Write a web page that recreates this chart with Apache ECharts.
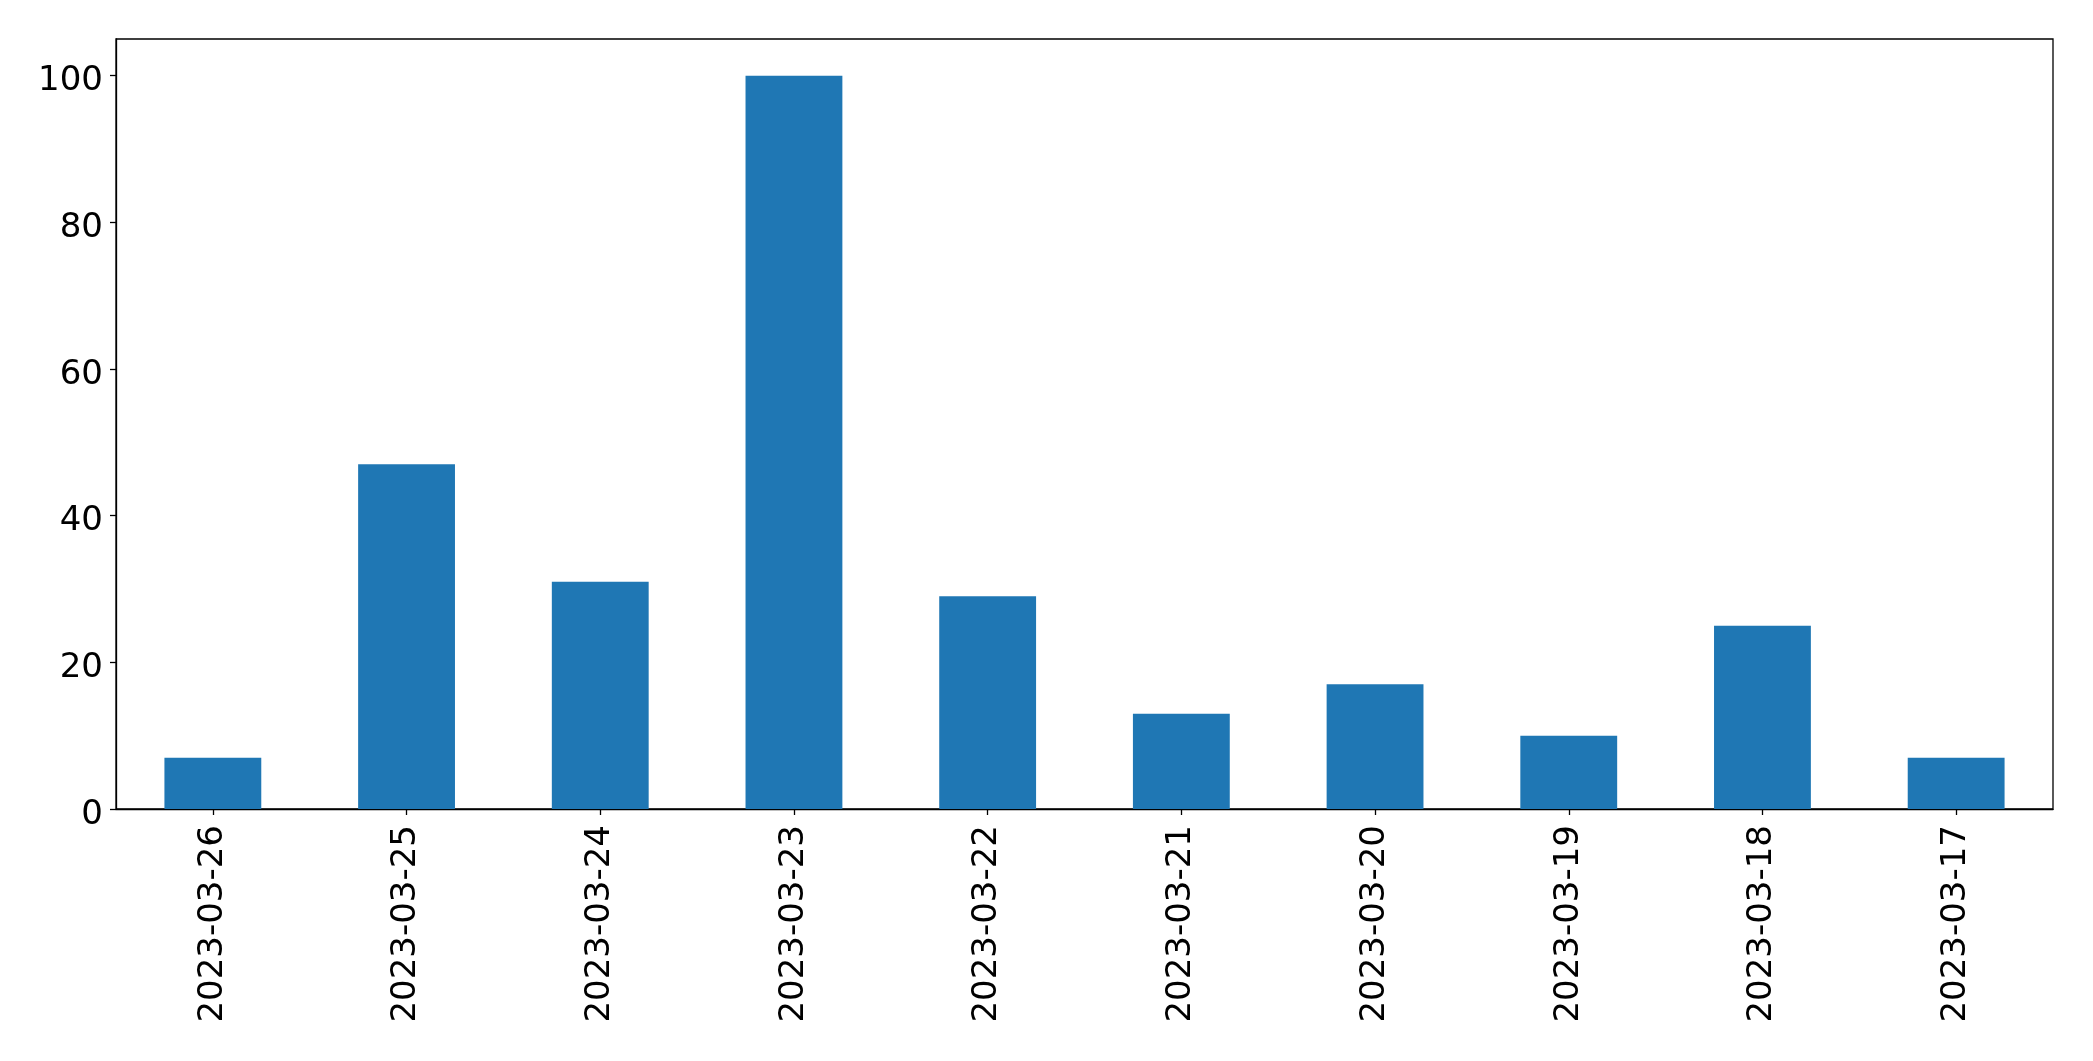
<!DOCTYPE html>
<html>
<head>
<meta charset="utf-8">
<script src="https://cdn.jsdelivr.net/npm/echarts@6/dist/echarts.min.js"></script>
<style>
    html, body { margin: 0; padding: 0; background: #fff; }
    #chart { width: 2093px; height: 1061px; }
</style>
</head>
<body>
<div id="chart"></div>
<script>
// dates (x axis, as in the picture: newest first)
var dates = ['2023-03-26', '2023-03-25', '2023-03-24', '2023-03-23', '2023-03-22',
    '2023-03-21', '2023-03-20', '2023-03-19', '2023-03-18', '2023-03-17'];
var counts = [7, 47, 31, 100, 29, 13, 17, 10, 25, 7];
var yTicks = [0, 20, 40, 60, 80, 100];

var font = 'DejaVu Sans';
var chartDom = document.getElementById('chart');
var myChart = echarts.init(chartDom, null, { renderer: 'canvas' });

var option = {
    animation: false,
    backgroundColor: '#fff',
    textStyle: { fontFamily: font },
    grid: {
        left: 116,
        top: 39,
        width: 1937,
        height: 770,
        show: true,
        borderColor: '#000',
        borderWidth: 1.3,
        backgroundColor: 'transparent',
        containLabel: false
    },
    xAxis: {
        type: 'category',
        data: dates,
        boundaryGap: true,
        axisLine: { show: true, lineStyle: { color: '#000', width: 1.3 } },
        axisTick: { show: true, alignWithLabel: true, length: 6, lineStyle: { color: '#000', width: 1.3 } },
        axisLabel: {
            rotate: 90,
            interval: 0,
            margin: 16,
            color: '#000',
            fontFamily: font,
            fontSize: 34
        },
        splitLine: { show: false }
    },
    yAxis: {
        type: 'value',
        min: 0,
        max: 105,
        interval: 20,
        axisLine: { show: true, lineStyle: { color: '#000', width: 1.3 } },
        axisTick: { show: true, length: 6, customValues: yTicks, lineStyle: { color: '#000', width: 1.3 } },
        axisLabel: {
            customValues: yTicks,
            margin: 13,
            color: '#000',
            fontFamily: font,
            fontSize: 34,
            // matplotlib centres the digits a bit lower than echarts does
            formatter: '{v|{value}}',
            rich: {
                v: { padding: [12, 0, 0, 0], fontSize: 34, fontFamily: font, color: '#000' }
            }
        },
        splitLine: { show: false }
    },
    series: [
        {
            type: 'bar',
            data: counts,
            barWidth: '50%',
            itemStyle: { color: '#1f77b4' }
        }
    ]
};

myChart.setOption(option);
</script>
</body>
</html>
